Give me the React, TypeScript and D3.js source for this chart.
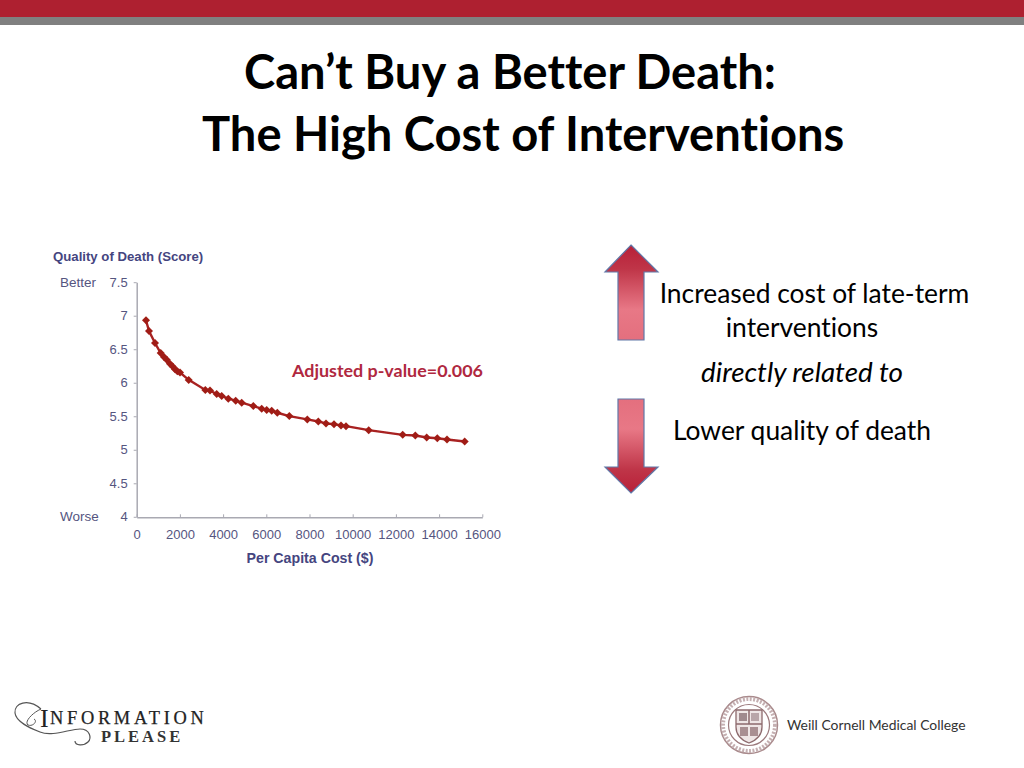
import React, { useEffect, useRef } from "react";
import * as d3 from "d3";

const costValues = [430, 570, 847, 1110, 1264, 1390, 1540, 1665, 1773, 1880, 2005, 2407, 3176, 3393, 3704, 3935, 4240, 4583, 4861, 5400, 5787, 6018, 6250, 6509, 7065, 7898, 8407, 8764, 9134, 9458, 9690, 10740, 12315, 12898, 13426, 13917, 14366, 15185];
const scoreValues = [6.94, 6.78, 6.6, 6.45, 6.39, 6.35, 6.29, 6.25, 6.21, 6.18, 6.16, 6.05, 5.9, 5.89, 5.84, 5.81, 5.77, 5.74, 5.71, 5.66, 5.62, 5.6, 5.59, 5.56, 5.51, 5.46, 5.43, 5.4, 5.39, 5.37, 5.36, 5.3, 5.23, 5.22, 5.19, 5.18, 5.16, 5.13];
const xTicks = [0, 2000, 4000, 6000, 8000, 10000, 12000, 14000, 16000];
const yTicks = [4, 4.5, 5, 5.5, 6, 6.5, 7, 7.5];
const titleLines = ["Can\u2019t Buy a Better Death:", "The High Cost of Interventions"];

const AXIS_TEXT = "#55557f";
const AXIS_LINE = "#a9a9b2";
const CHART_FONT = "'Liberation Sans', Arial, sans-serif";
const SLIDE_FONT = "Lato, 'Open Sans', sans-serif";
const NO_LIG = { fontVariantLigatures: "none" } as React.CSSProperties;

const x = d3.scaleLinear().domain([0, 16000]).range([136.7, 482.3]);
const y = d3.scaleLinear().domain([4, 7.5]).range([517.3, 282.7]);

const points = costValues.map((c, i) => [c, scoreValues[i]] as [number, number]);
const line = d3.line<[number, number]>().x((d) => x(d[0])).y((d) => y(d[1]));
const marker = d3.symbol().type(d3.symbolSquare).size(32);

function Arrow({ id, tipY, baseY, endY }: { id: string; tipY: number; baseY: number; endY: number }) {
  const d = `M631 ${tipY}L658 ${baseY}L644 ${baseY}L644 ${endY}L618 ${endY}L618 ${baseY}L605 ${baseY}Z`;
  const up = tipY < endY;
  return (
    <g>
      <defs>
        <linearGradient id={id} x1="0" x2="0" y1={up ? "0" : "1"} y2={up ? "1" : "0"}>
          <stop offset="0" stopColor="#b81f38" />
          <stop offset="0.25" stopColor="#bf3548" />
          <stop offset="0.68" stopColor="#e87886" />
          <stop offset="1" stopColor="#e46f7e" />
        </linearGradient>
      </defs>
      <path d={d} fill={`url(#${id})`} stroke="#6078a8" strokeWidth={1.2} strokeLinejoin="miter" />
    </g>
  );
}

function Seal() {
  const cx = 749, cy = 725;
  return (
    <g filter="url(#soft)">
      <circle cx={cx} cy={cy} r={28.5} fill="#fff" stroke="#a98a8c" strokeWidth={1.5} />
      <circle cx={cx} cy={cy} r={26} fill="none" stroke="#c5b0b2" strokeWidth={4} strokeDasharray="2 1.5" />
      <circle cx={cx} cy={cy} r={20.5} fill="#fff" stroke="#9c7a7d" strokeWidth={1.2} />
      <path d={`M${cx - 13} ${cy - 15}H${cx + 13}V${cy + 2}Q${cx + 13} ${cy + 13} ${cx} ${cy + 18}Q${cx - 13} ${cy + 13} ${cx - 13} ${cy + 2}Z`} fill="#efe6e6" stroke="#8d6a6d" strokeWidth={1.3} />
      <path d={`M${cx - 13} ${cy - 1}H${cx + 13}M${cx} ${cy - 15}V${cy - 1}`} stroke="#8d6a6d" strokeWidth={1.5} />
      <rect x={cx - 10} y={cy - 12} width={8} height={8} fill="#a08a8e" />
      <rect x={cx + 2} y={cy - 12} width={8} height={8} fill="#b9a6a9" />
      <path d={`M${cx - 9} ${cy + 2}H${cx - 1}V${cy + 11}H${cx - 9}ZM${cx + 1} ${cy + 2}H${cx + 9}V${cy + 11}H${cx + 1}Z`} fill="#a98f92" />
    </g>
  );
}

export default function App() {
  const xRef = useRef<SVGGElement>(null);
  const yRef = useRef<SVGGElement>(null);

  useEffect(() => {
    const style = (g: d3.Selection<SVGGElement, unknown, null, undefined>) => {
      g.selectAll("path").attr("stroke", AXIS_LINE).attr("stroke-width", 1.5);
      g.selectAll("line").attr("stroke", AXIS_LINE).attr("stroke-width", 1);
      g.selectAll("text").attr("fill", AXIS_TEXT).attr("font-size", 13).attr("font-family", CHART_FONT);
    };
    const gx = d3.select(xRef.current!);
    gx.call(d3.axisBottom(x).tickValues(xTicks).tickFormat((d) => String(d)).tickSizeInner(-3).tickSizeOuter(0).tickPadding(12));
    style(gx);
    const gy = d3.select(yRef.current!);
    gy.call(d3.axisLeft(y).tickValues(yTicks).tickFormat((d) => String(d)).tickSizeInner(3).tickSizeOuter(0).tickPadding(6));
    style(gy);
  }, []);

  return (
    <svg width={1024} height={768} viewBox="0 0 1024 768" style={{ position: "absolute", left: 0, top: 0, background: "#fff" }}>
      <defs>
        <filter id="soft" x="-10%" y="-10%" width="120%" height="120%">
          <feGaussianBlur stdDeviation="0.4" />
        </filter>
      </defs>
      <rect x={0} y={0} width={1024} height={17} fill="#ae2030" />
      <rect x={0} y={17} width={1024} height={8} fill="#808080" />

      <g fontFamily={SLIDE_FONT} fontWeight={700} fontSize={47.1} fill="#000" style={NO_LIG}>
        <text x={244} y={89}>{titleLines[0]}</text>
        <text x={202} y={151}>{titleLines[1]}</text>
      </g>

      <g fontFamily={CHART_FONT}>
        <text x={53} y={261} fontSize={13.2} fontWeight={700} fill="#45457f">Quality of Death (Score)</text>
        <text x={60} y={287} fontSize={13.5} fill={AXIS_TEXT}>Better</text>
        <text x={60} y={521} fontSize={13.5} fill={AXIS_TEXT}>Worse</text>
        <text x={310} y={563} fontSize={14.2} fontWeight={700} fill="#45457f" textAnchor="middle">Per Capita Cost ($)</text>
      </g>
      <g ref={yRef} transform="translate(136.7,-0.5)" />
      <g ref={xRef} transform="translate(0,517.3)" />

      <g filter="url(#soft)">
        <path d={line(points) ?? ""} fill="none" stroke="#a82020" strokeWidth={2.4} />
        <g fill="#a01c14">
          {points.map((p, i) => (
            <path key={i} d={marker() ?? ""} transform={`translate(${x(p[0])},${y(p[1])}) rotate(45)`} />
          ))}
        </g>
      </g>
      <text x={292} y={377} fontFamily={SLIDE_FONT} fontWeight={700} fontSize={17.9} fill="#b0283f" style={NO_LIG}>Adjusted p-value=0.006</text>

      <Arrow id="arrowUp" tipY={245} baseY={272} endY={340} />
      <Arrow id="arrowDown" tipY={493} baseY={467} endY={399} />

      <g fontFamily={SLIDE_FONT} fontSize={26.4} fill="#000" textAnchor="middle" style={NO_LIG}>
        <text x={814.5} y={303}>Increased cost of late-term</text>
        <text x={802} y={337}>interventions</text>
        <text x={802} y={382} fontStyle="italic" fontSize={27.8}>directly related to</text>
        <text x={802} y={440}>Lower quality of death</text>
      </g>

      <g>
        <g filter="url(#soft)">
          <path d="M41 709C28 698 14 703 15 713C16 722 30 728 40 732C52 737 70 729 80 729C90 729 92 738 88 742C84 746 75 746 75 741" fill="none" stroke="#555" strokeWidth={1.2} />
          <path d="M41 709C32 713 24 722 28 725C33 727 38 721 34 719" fill="none" stroke="#555" strokeWidth={1} />
        </g>
        <text x={40} y={727} fontFamily="'Liberation Serif', serif" fontSize={26} fill="#222">I</text>
        <text x={50} y={724} fontFamily="'Liberation Serif', serif" fontSize={18.4} letterSpacing={3.7} fill="#222" stroke="#222" strokeWidth={0.25}>NFORMATION</text>
        <text x={101} y={742} fontFamily="'Liberation Serif', serif" fontSize={16.5} letterSpacing={3} fontWeight={700} fill="#333">PLEASE</text>
      </g>

      <Seal />
      <text x={787} y={730} fontFamily={SLIDE_FONT} fontSize={13.9} fill="#333">Weill Cornell Medical College</text>
    </svg>
  );
}
